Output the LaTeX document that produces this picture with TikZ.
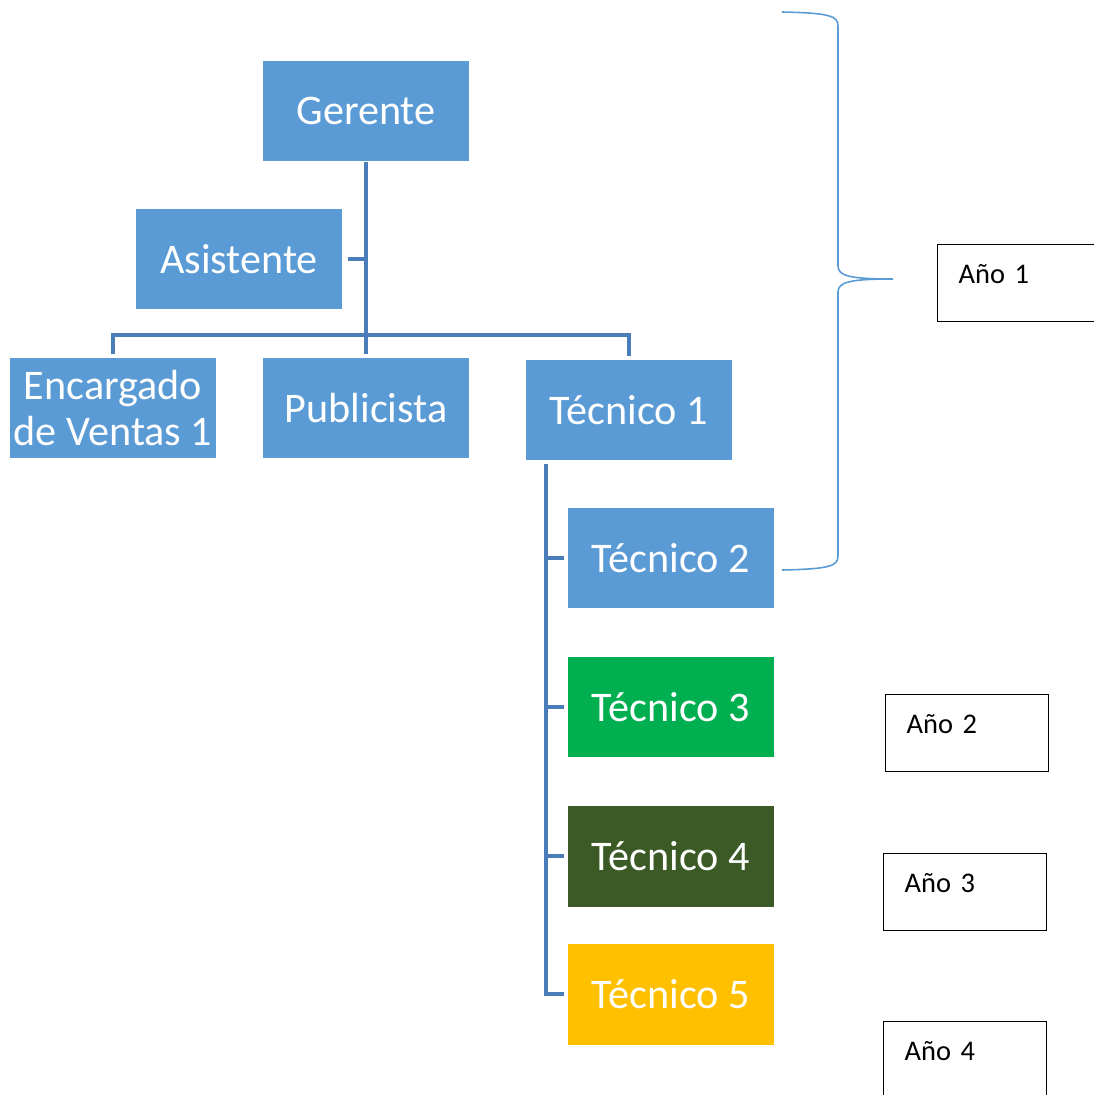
\documentclass[tikz,border=0pt]{standalone}
\usepackage{fontspec}
\setmainfont{Carlito}
\definecolor{cargoblue}{HTML}{5B9BD5}
\definecolor{linkblue}{HTML}{4A7EBB}
\definecolor{tecgreen}{HTML}{00B050}
\definecolor{tecdark}{HTML}{3B5A25}
\definecolor{tecgold}{HTML}{FFC000}
\begin{document}
\begin{tikzpicture}[x=0.02cm,y=-0.02cm,
    cargo/.style={fill=cargoblue,text=white,minimum width=4.12cm,minimum height=2.02cm,inner sep=1pt,align=center,font=\fontsize{24}{26.5}\selectfont},
    anio/.style={draw,line width=0.8pt,anchor=north west,minimum width=3.26cm,minimum height=1.54cm,text width=2.42cm,inner xsep=0.42cm,align=left,text height=1.5ex,text depth=1.5ex,font=\fontsize{16.2}{19}\selectfont},
    link/.style={draw=linkblue,line width=1.9pt},
    brace/.style={draw=cargoblue,line width=0.9pt}]
    \useasboundingbox (0,0) rectangle (1094,1095);

    \node[cargo] (g) at (366,111) {Gerente};
    \node[cargo] (a) at (239,259) {Asistente};
    \node[cargo] (e) at (113,408) {Encargado\\de Ventas 1};
    \node[cargo] (p) at (366,408) {Publicista};
    \node[cargo] (t1) at (629,410) {Técnico 1};
    \node[cargo] (t2) at (671,558) {Técnico 2};
    \node[cargo,fill=tecgreen] (t3) at (671,707) {Técnico 3};
    \node[cargo,fill=tecdark] (t4) at (671,856) {Técnico 4};
    \node[cargo,fill=tecgold] (t5) at (671,994) {Técnico 5};

    \node[anio] (y1) at (937,244) {Año 1};
    \node[anio] (y2) at (885,694) {Año 2};
    \node[anio] (y3) at (883,853) {Año 3};
    \node[anio] (y4) at (883,1021) {Año 4};

    \coordinate (hub) at (366,335);
    \coordinate (trunk) at (546,464);

    \draw[link] (g.south) -- (hub);
    \draw[link] ([xshift=3pt]a.east) -- (a.east -| hub);
    \draw[link] ([yshift=2pt]e.north) |- (hub) -| ([yshift=2pt]t1.north);
    \draw[link] (hub) -- ([yshift=2pt]p.north);
    \draw[link] (trunk) |- ([xshift=-2pt]t5.west);
    \foreach \i in {2,3,4}
        \draw[link] ([xshift=-2pt]t\i.west) -- (t\i.west -| trunk);

    % brace round the first year
    \draw[brace] (782,12) .. controls (830,13) and (838,16) .. (838,26) -- (838,266)
        .. controls (838,276) and (850,279) .. (893,279)
        .. controls (850,279) and (838,282) .. (838,292) -- (838,556)
        .. controls (838,566) and (830,569) .. (782,570);
\end{tikzpicture}
\end{document}
